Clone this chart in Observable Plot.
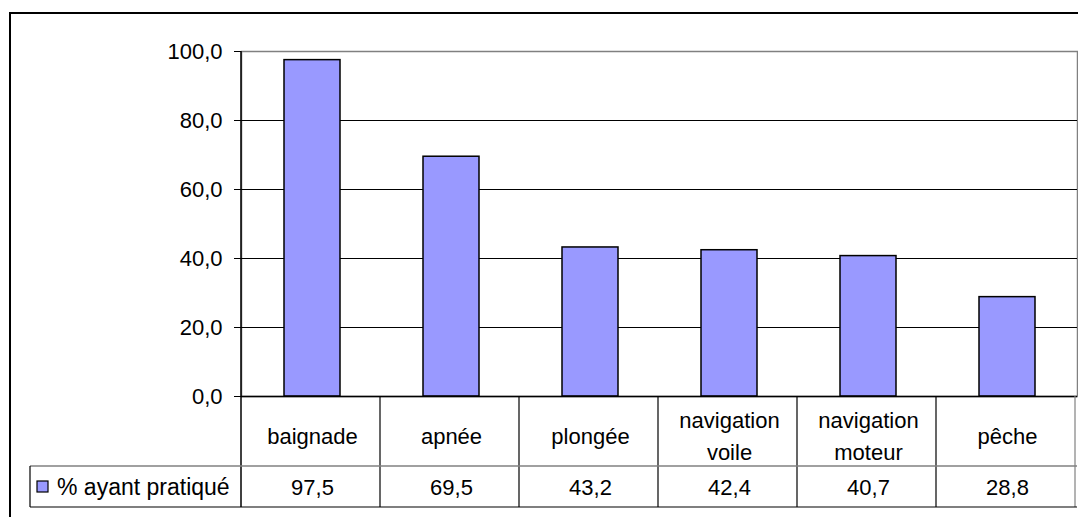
<!DOCTYPE html>
<html><head><meta charset="utf-8">
<script src="https://cdn.jsdelivr.net/npm/d3@7"></script>
<script src="https://cdn.jsdelivr.net/npm/@observablehq/plot@0.6"></script>
<style>html,body{margin:0;padding:0;background:#fff;overflow:hidden}</style>
</head><body><div id="chart"></div>
<script>
const categories = ["baignade", "apnée", "plongée", "navigation\nvoile", "navigation\nmoteur", "pêche"];
const values = [97.5, 69.5, 43.2, 42.4, 40.7, 28.8];
const seriesName = "% ayant pratiqué";
const yTicks = [0, 20, 40, 60, 80, 100];

const data = categories.map((c, i) => ({cat: c, value: values[i]}));
const fmt = v => v.toFixed(1).replace(".", ",");
const FONT = "'Liberation Sans', Arial, sans-serif";
const barFill = "#9999FF";

const plot = Plot.plot({
  width: 1078, height: 517,
  marginLeft: 241, marginRight: 1, marginTop: 51, marginBottom: 121,
  style: {fontFamily: FONT, fontSize: "22px", background: "#fff", color: "#000"},
  x: {type: "band", domain: categories, paddingInner: 0.6, paddingOuter: 0.3, axis: null},
  y: {domain: [0, 100], axis: null},
  marks: [
    Plot.frame({stroke: "#808080", strokeWidth: 1.5}),
    Plot.ruleY(yTicks.slice(1, -1), {stroke: "#000", strokeWidth: 1.2}),
    Plot.barY(data, {x: "cat", y: "value", fill: barFill, stroke: "#000", strokeWidth: 1.5}),
    Plot.ruleY([0], {stroke: "#000", strokeWidth: 1.5}),
    Plot.axisY({ticks: yTicks, tickFormat: fmt, tickSize: 7, tickPadding: 12, fontSize: 22, stroke: "#000", label: null}),
    Plot.text(data, {x: "cat", y: () => 0, text: "cat", dy: 37, lineHeight: 1.45, fontSize: 22, fill: "#000"}),
    Plot.text(data, {x: "cat", y: () => 0, text: d => fmt(d.value), dy: 91, fontSize: 22, fill: "#000"})
  ]
});
document.getElementById("chart").appendChild(plot);

// data table grid + legend, positioned from Plot's own scales
const svg = d3.select(plot);
const xs = plot.scale("x"), ys = plot.scale("y");
const step = xs.step;
const left = xs.range[0], right = xs.range[1];
const y0 = ys.apply(0), yTop = ys.apply(100);
const rowMid = y0 + 70, rowBot = y0 + 111;
const legendLeft = 30;
const g = svg.append("g");

for (let i = 0; i <= categories.length; i++) {
  const xx = left + i * step;
  g.append("line").attr("x1", xx).attr("x2", xx)
    .attr("y1", i === 0 ? yTop : y0).attr("y2", rowBot)
    .attr("stroke", i === categories.length ? "#808080" : "#000")
    .attr("stroke-width", i === 0 ? 1.5 : 1.2);
}
g.append("line").attr("x1", legendLeft).attr("x2", right).attr("y1", rowMid).attr("y2", rowMid)
  .attr("stroke", "#808080").attr("stroke-width", 1.5);
g.append("line").attr("x1", legendLeft).attr("x2", right).attr("y1", rowBot).attr("y2", rowBot)
  .attr("stroke", "#000").attr("stroke-width", 1.2);
g.append("line").attr("x1", legendLeft).attr("x2", legendLeft).attr("y1", rowMid).attr("y2", rowBot)
  .attr("stroke", "#000").attr("stroke-width", 1.2);
g.append("rect").attr("x", legendLeft + 7).attr("y", (rowMid + rowBot) / 2 - 5.5)
  .attr("width", 11).attr("height", 11).attr("fill", barFill).attr("stroke", "#000").attr("stroke-width", 1.2);
g.append("text").attr("x", legendLeft + 27).attr("y", (rowMid + rowBot) / 2)
  .attr("dy", "0.35em").attr("text-anchor", "start")
  .attr("font-family", FONT).attr("font-size", 23).attr("fill", "#000")
  .text(seriesName);

// outer chart border (extends past the visible right/bottom edges)
svg.append("rect").attr("x", 10).attr("y", 13).attr("width", 1078).attr("height", 517)
  .attr("fill", "none").attr("stroke", "#000").attr("stroke-width", 2);
</script>
</body></html>
